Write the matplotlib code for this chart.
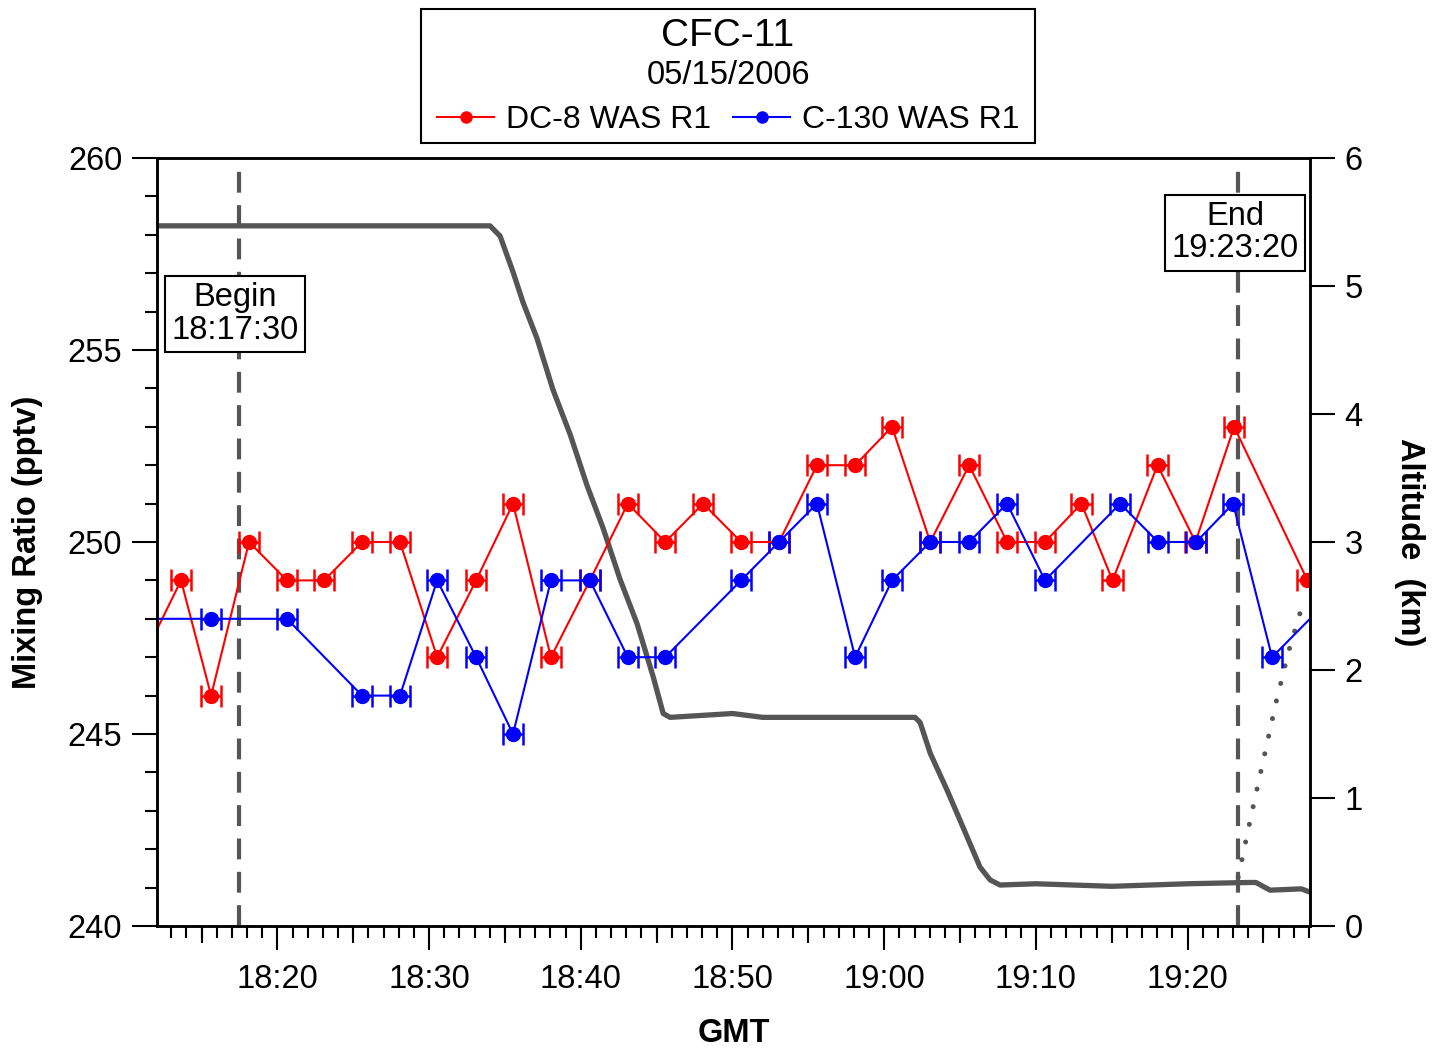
import matplotlib
matplotlib.use("Agg")
import matplotlib.pyplot as plt
from matplotlib.ticker import MultipleLocator, FuncFormatter
from matplotlib.lines import Line2D
from matplotlib.patches import Rectangle

plt.rcParams['font.family'] = ['Liberation Sans', 'DejaVu Sans']


def mins(s):
    # minutes after 18:00
    h, m, sec = [int(v) for v in s.split(':')]
    return (h - 18) * 60 + m + sec / 60.0


# DC-8 WAS R1
dc8_time = ["18:11:10", "18:13:39", "18:15:38", "18:18:08", "18:20:38", "18:23:05",
            "18:25:35", "18:28:05", "18:30:32", "18:33:06", "18:35:32", "18:38:02",
            "18:40:36", "18:43:06", "18:45:34", "18:48:04", "18:50:34", "18:53:04",
            "18:55:34", "18:58:05", "19:00:31", "19:03:02", "19:05:36", "19:08:06",
            "19:10:36", "19:13:00", "19:15:03", "19:18:01", "19:20:31", "19:23:04",
            "19:27:54"]
dc8_cfc = [247, 249, 246, 250, 249, 249, 250, 250, 247, 249, 251, 247,
           249, 251, 250, 251, 250, 250, 252, 252, 253, 250, 252, 250,
           250, 251, 249, 252, 250, 253, 249]

# C-130 WAS R1
c130_time = ["18:11:10", "18:15:38", "18:20:38", "18:25:35", "18:28:05", "18:30:32",
             "18:33:06", "18:35:32", "18:38:02", "18:40:36", "18:43:06", "18:45:34",
             "18:50:34", "18:53:04", "18:55:34", "18:58:05", "19:00:31", "19:03:02",
             "19:05:36", "19:08:06", "19:10:36", "19:15:33", "19:18:03", "19:20:34",
             "19:23:00", "19:25:34", "19:30:34"]
c130_cfc = [248, 248, 248, 246, 246, 249, 247, 245, 249, 249, 247, 247,
            249, 250, 251, 247, 249, 250, 250, 251, 249, 251, 250, 250,
            251, 247, 249]

sample_halfwidth = 40 / 60.0  # minutes

# DC-8 altitude (km)
alt_time = ["18:11:30", "18:20:00", "18:30:00", "18:34:01", "18:34:41", "18:35:32",
            "18:36:12", "18:37:07", "18:38:10", "18:39:18", "18:40:25", "18:41:28",
            "18:42:35", "18:43:43", "18:44:46", "18:45:26", "18:45:53", "18:50:00",
            "18:52:00", "19:02:02", "19:02:22", "19:03:02", "19:04:09", "19:05:12",
            "19:06:19", "19:06:59", "19:07:38", "19:10:00", "19:15:00", "19:20:00",
            "19:24:00", "19:24:30", "19:25:26", "19:27:30", "19:28:10"]
alt_km = [5.47, 5.47, 5.47, 5.47, 5.39, 5.11,
          4.87, 4.59, 4.19, 3.84, 3.44, 3.11,
          2.71, 2.36, 1.95, 1.66, 1.63, 1.66,
          1.63, 1.63, 1.59, 1.35, 1.06, 0.77,
          0.46, 0.36, 0.32, 0.33, 0.31, 0.33,
          0.34, 0.34, 0.28, 0.29, 0.26]

# C-130 altitude after end of run (dotted)
alt2_time = ["19:23:20", "19:24:10", "19:25:00", "19:25:50", "19:26:40", "19:27:33"]
alt2_km = [0.38, 0.85, 1.30, 1.75, 2.15, 2.50]

begin_t = "18:17:30"
end_t = "19:23:20"

fig = plt.figure(figsize=(14.35, 10.48), dpi=100)
ax = fig.add_axes([157 / 1435, 1 - 926 / 1048, 1153 / 1435, 768 / 1048])
ax2 = ax.twinx()
ax.set_zorder(ax2.get_zorder() + 1)
ax.patch.set_visible(False)

gray = '#555555'
ax2.plot([mins(t) for t in alt_time], alt_km, color=gray, lw=3.8, solid_joinstyle='round')
ax2.plot([mins(t) for t in alt2_time], alt2_km, color=gray, lw=3.6,
         linestyle=(0, (0.01, 3.6)), dash_capstyle='round')
ax2.set_ylim(0, 6)

ax.errorbar([mins(t) for t in dc8_time], dc8_cfc, xerr=sample_halfwidth,
            color='red', lw=1.5, elinewidth=1.8, capsize=8, capthick=1.8,
            marker='o', ms=10, clip_on=True)
ax.errorbar([mins(t) for t in c130_time], c130_cfc, xerr=sample_halfwidth,
            color='blue', lw=1.5, elinewidth=1.8, capsize=8, capthick=1.8,
            marker='o', ms=10, clip_on=True)

for t in (begin_t, end_t):
    ax.axvline(mins(t), color=gray, lw=3, dashes=(5, 3), zorder=1)

ax.text(mins("18:17:12"), 255.94, "Begin\n18:17:30", fontsize=23.5, ha='center',
        va='center', linespacing=1.05,
        bbox=dict(boxstyle='square,pad=0.2', fc='white', ec='black', lw=1.5))
ax.text(mins("19:23:08"), 258.05, "End\n19:23:20", fontsize=23.5, ha='center',
        va='center', linespacing=1.05,
        bbox=dict(boxstyle='square,pad=0.2', fc='white', ec='black', lw=1.5))

ax.set_xlim(mins("18:12:04"), mins("19:28:04"))
ax.set_ylim(240, 260)

ax.xaxis.set_major_locator(MultipleLocator(10))
ax.xaxis.set_minor_locator(MultipleLocator(1))
ax.xaxis.set_major_formatter(FuncFormatter(lambda v, p: "%d:%02d" % (18 + int(v // 60), int(round(v % 60)))))
ax.yaxis.set_major_locator(MultipleLocator(5))
ax.yaxis.set_minor_locator(MultipleLocator(1))

ax.tick_params(axis='both', which='major', labelsize=23.5, width=1.5, length=17, direction='out')
ax.tick_params(axis='x', which='major', pad=10)
ax.tick_params(axis='y', which='major', length=18, pad=7)
ax.tick_params(axis='both', which='minor', width=1.5, length=8.5, direction='out')
ax2.tick_params(axis='y', which='major', labelsize=23.5, width=1.5, length=18, pad=7)
ax2.yaxis.set_major_locator(MultipleLocator(1))

# 5-minute ticks
sec = ax.secondary_xaxis('bottom')
sec.set_xticks([mins(t) for t in ["18:15:00", "18:25:00", "18:35:00", "18:45:00",
                                   "18:55:00", "19:05:00", "19:15:00", "19:25:00"]])
sec.set_xticklabels([])
sec.tick_params(axis='x', length=12.5, width=1.5)
sec.spines['bottom'].set_visible(False)

for a in (ax, ax2):
    for s in a.spines.values():
        s.set_linewidth(1.8)

ax.set_xlabel("GMT", fontsize=23.5, fontweight='bold', labelpad=17)
ax.set_ylabel("Mixing Ratio (pptv)", fontsize=23.5, fontweight='bold', labelpad=18)
ax2.set_ylabel("Altitude  (km)", fontsize=23.5, fontweight='bold', rotation=-90,
               va='bottom', labelpad=22)

# legend box
fig.patches.append(Rectangle((421 / 1435, 1 - 143 / 1048), 614 / 1435, 134 / 1048,
                             transform=fig.transFigure, fc='white', ec='black', lw=1.5))
fig.text(728 / 1435, 1 - 36 / 1048, "CFC-11", fontsize=28, ha='center', va='center')
fig.text(728 / 1435, 1 - 75 / 1048, "05/15/2006", fontsize=23.5, ha='center', va='center')
handles = [Line2D([], [], color='red', lw=1.5, marker='o', ms=8),
           Line2D([], [], color='blue', lw=1.5, marker='o', ms=8)]
fig.legend(handles, ["DC-8 WAS R1", "C-130 WAS R1"], ncol=2, loc='center',
           bbox_to_anchor=(728 / 1435, 1 - 120 / 1048), frameon=False, fontsize=23,
           handlelength=1.8, handletextpad=0.35, columnspacing=0.7, borderpad=0)

fig.savefig("out.png", dpi=100)
